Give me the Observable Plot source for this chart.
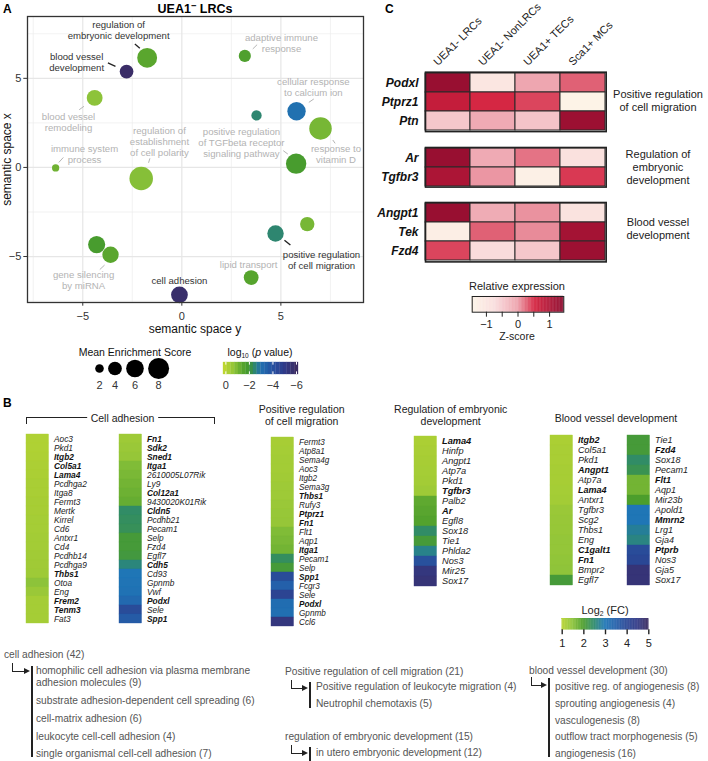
<!DOCTYPE html>
<html>
<head>
<meta charset="utf-8">
<script src="https://cdn.jsdelivr.net/npm/d3@7"></script>
<script src="https://cdn.jsdelivr.net/npm/@observablehq/plot@0.6"></script>
<style>
html,body{margin:0;padding:0;background:#fff;}
#fig{position:relative;width:708px;height:761px;overflow:hidden;background:#fff;font-family:"Liberation Sans",Arial,Helvetica,sans-serif;color:#222;}
.t{position:absolute;white-space:nowrap;}
sub{font-size:0.62em;vertical-align:-0.3em;line-height:0;}
sup{font-size:0.75em;vertical-align:0.4em;line-height:0;}
</style>
</head>
<body>
<div id="fig"></div>
<script>
// ---------------- Panel A data (REVIGO semantic space) ----------------
const termLabels = ["regulation of\nembryonic development","blood vessel\ndevelopment","blood vessel\nremodeling","immune system\nprocess","regulation of\nestablishment\nof cell polarity","","gene silencing\nby miRNA","cell adhesion","adaptive immune\nresponse","","cellular response\nto calcium ion","response to\nvitamin D","positive regulation\nof TGFbeta receptor\nsignaling pathway","","positive regulation\nof cell migration","lipid transport"];
const semX = [-1.75,-2.79,-4.40,-6.37,-2.05,-4.30,-3.60,-0.12,3.18,3.77,5.79,7.00,5.77,6.33,4.73,3.50];
const semY = [6.15,5.38,3.90,-0.03,-0.62,-4.33,-4.90,-7.15,6.26,2.92,3.15,2.19,0.21,-3.18,-3.71,-6.18];
const enrichScore = [7.3,4.0,5.0,1.6,9.7,5.7,5.3,5.5,3.3,2.6,6.4,9.0,7.6,4.3,5.3,4.5];
const log10P = [-1.45,-5.9,-0.75,-1.15,-0.85,-1.8,-1.45,-5.8,-1.65,-2.5,-3.0,-1.05,-1.8,-1.05,-2.5,-1.5];
const highlighted = [true,true,false,false,false,false,false,true,false,false,false,false,false,false,true,false];
// label anchors (repelled positions, semantic-space units)
const labelX = [-3.19,-5.31,-5.72,-4.91,-1.13,null,-4.96,-0.12,5.03,null,6.64,7.78,3.01,null,7.05,3.37];
const labelY = [7.71,5.91,2.54,0.77,1.46,null,-6.31,-6.37,6.98,null,4.51,0.77,1.42,null,-5.19,-5.47];
const leaderX1 = [-2.37,-3.73,-5.18,-6.21,-1.61,null,-4.14,null,3.58,null,6.41,7.62,5.12,null,5.18,null];
const leaderY1 = [6.93,5.87,3.24,0.28,0.51,null,-5.73,null,6.65,null,3.65,1.54,0.94,null,-4.08,null];
const leaderX2 = [-2.12,-3.35,-4.94,-5.98,-1.68,null,-3.90,null,3.80,null,6.66,7.74,5.35,null,5.48,null];
const leaderY2 = [6.69,5.67,3.43,0.56,0.26,null,-5.48,null,6.89,null,3.84,1.35,0.75,null,-4.36,null];
const gridMajor = [-5,0,5];
const gridMinor = [-7.5,-2.5,2.5,7.5];
const sizeBreaks = [2,4,6,8];
const pBreaks = [0,-2,-4,-6];

// ---------------- Panel B data (log2 FC) ----------------
const caGenes1 = ["Aoc3","Pkd1","Itgb2","Col5a1","Lama4","Pcdhga2","Itga8","Fermt3","Mertk","Kirrel","Cd6","Antxr1","Cd4","Pcdhb14","Pcdhga9","Thbs1","Otoa","Eng","Frem2","Tenm3","Fat3"];
const caFC1 = [1.1,1.1,1.12,1.14,1.15,1.17,1.18,1.2,1.2,1.22,1.22,1.24,1.25,1.27,1.28,1.3,1.5,1.35,1.22,1.22,1.22];
const caBold1 = ["Itgb2","Col5a1","Lama4","Thbs1","Frem2","Tenm3"];
const caGenes2 = ["Fn1","Sdk2","Sned1","Itga1","2610005L07Rik","Ly9","Col12a1","9430020K01Rik","Cldn5","Pcdhb21","Pecam1","Selp","Fzd4","Egfl7","Cdh5","Cd93","Gpnmb","Vwf","Podxl","Sele","Spp1"];
const caFC2 = [1.3,1.35,1.4,1.6,1.65,1.7,1.75,1.8,2.45,2.4,2.35,2.1,2.1,2.15,2.6,3.0,3.05,3.1,3.3,3.9,3.6];
const caBold2 = ["Fn1","Sdk2","Sned1","Itga1","Col12a1","Cldn5","Cdh5","Podxl","Spp1"];
const prGenes = ["Fermt3","Atp8a1","Sema4g","Aoc3","Itgb2","Sema3g","Thbs1","Rufy3","Ptprz1","Fn1","Flt1","Aqp1","Itga1","Pecam1","Selp","Spp1","Fcgr3","Sele","Podxl","Gpnmb","Ccl6"];
const prFC = [1.2,1.22,1.25,1.25,1.27,1.3,1.3,1.35,1.38,1.4,1.6,1.65,1.7,2.4,2.1,3.9,3.5,4.1,3.2,3.15,4.6];
const prBold = ["Thbs1","Ptprz1","Fn1","Itga1","Spp1","Podxl"];
const edGenes = ["Lama4","Hinfp","Angpt1","Atp7a","Pkd1","Tgfbr3","Palb2","Ar","Egfl8","Sox18","Tie1","Phlda2","Nos3","Mir25","Sox17"];
const edFC = [1.15,1.18,1.2,1.22,1.25,1.3,1.85,1.9,1.95,2.45,2.1,2.7,3.8,4.6,4.7];
const edBold = ["Lama4","Tgfbr3","Ar"];
const bvGenes1 = ["Itgb2","Col5a1","Pkd1","Angpt1","Atp7a","Lama4","Antxr1","Tgfbr3","Scg2","Thbs1","Eng","C1galt1","Fn1","Bmpr2","Egfl7"];
const bvFC1 = [1.15,1.17,1.18,1.2,1.2,1.22,1.24,1.35,1.37,1.38,1.42,1.42,1.45,1.48,2.1];
const bvBold1 = ["Itgb2","Angpt1","Lama4","C1galt1","Fn1"];
const bvGenes2 = ["Tie1","Fzd4","Sox18","Pecam1","Flt1","Aqp1","Mir23b","Apold1","Mmrn2","Lrg1","Gja4","Ptprb","Nos3","Gja5","Sox17"];
const bvFC2 = [2.1,2.1,2.45,2.3,1.7,1.7,2.0,3.0,3.0,2.8,2.65,3.9,4.0,4.7,4.7];
const bvBold2 = ["Fzd4","Flt1","Mmrn2","Ptprb"];
const fcBreaks = [1,2,3,4,5];

// ---------------- Panel C data (z-scores) ----------------
const samples = ["UEA1- LRCs","UEA1- NonLRCs","UEA1+ TECs","Sca1+ MCs"];
const migGenes = ["Podxl","Ptprz1","Ptn"];
const migZ = [[1.3,-1.0,-0.05,0.28],[0.75,0.53,0.4,-1.4],[-0.45,-0.1,-0.4,1.25]];
const embGenes = ["Ar","Tgfbr3"];
const embZ = [[1.3,-0.1,0.2,-0.85],[1.05,0.05,-1.3,0.45]];
const vesGenes = ["Angpt1","Tek","Fzd4"];
const vesZ = [[1.3,-0.12,0.07,-0.9],[-1.25,0.28,0.1,1.15],[0.4,-0.7,-0.45,1.25]];
const zBreaks = [-1,-0.5,0,0.5,1];

// ---------------- bottom GO lists ----------------
const caList = ["homophilic cell adhesion via plasma membrane<br>adhesion molecules (9)","substrate adhesion-dependent cell spreading (6)","cell-matrix adhesion (6)","leukocyte cell-cell adhesion (4)","single organismal cell-cell adhesion (7)"];
const prList = ["Positive regulation of leukocyte migration (4)","Neutrophil chemotaxis (5)"];
const reList = ["in utero embryonic development (12)"];
const bvList = ["positive reg. of angiogenesis (8)","sprouting angiogenesis (4)","vasculogenesis (8)","outflow tract morphogenesis (5)","angiogenesis (16)"];

// ---------------- helpers ----------------
const FONT = '"Liberation Sans", Arial, Helvetica, sans-serif';
const fig = document.getElementById("fig");
const minus = d => (d < 0 ? "\u2212" + Math.abs(d) : String(d));
const baseStyle = {fontFamily: FONT, background: "none", overflow: "visible", color: "#222"};
function place(el, left, top) {
  Object.assign(el.style, {position: "absolute", left: left + "px", top: top + "px", maxWidth: "none", background: "none", overflow: "visible"});
  fig.appendChild(el); return el;
}
function txt(html, x, y, o = {}) {
  const d = document.createElement("div");
  d.className = "t"; d.innerHTML = html;
  const size = o.size || 10, lh = o.lh || Math.round(size * 1.15);
  Object.assign(d.style, {left: x + "px", top: (y - lh / 2) + "px", fontSize: size + "px", lineHeight: lh + "px",
    color: o.color || "#222", fontWeight: o.weight || "normal", fontStyle: o.style || "normal", textAlign: o.align || "left"});
  let tr = "";
  if (o.anchor === "middle") tr = "translateX(-50%)";
  if (o.anchor === "end") tr = "translateX(-100%)";
  if (o.bg) { d.style.background = o.bg; d.style.padding = "0 4px"; }
  d.style.transform = tr;
  fig.appendChild(d); return d;
}
function box(x, y, w, h, css) {
  const d = document.createElement("div");
  Object.assign(d.style, {position: "absolute", left: x + "px", top: y + "px", width: w + "px", height: h + "px", boxSizing: "border-box"}, css || {});
  fig.appendChild(d); return d;
}
function elbow(x, y1, y2, tip) {
  box(x - 0.8, y1, tip - x - 4, y2 - y1 + 0.8, {borderLeft: "1.6px solid #222", borderBottom: "1.6px solid #222"});
  box(tip - 6, y2 - 3.4, 0, 0, {borderLeft: "6px solid #222", borderTop: "3.6px solid transparent", borderBottom: "3.6px solid transparent"});
}
function vbar(x, y1, y2) { box(x - 1, y1, 2, y2 - y1, {background: "#222"}); }

// ---------------- colour scales ----------------
const pStops = [[0,"#bcd631"],[-0.75,"#8dc33a"],[-1.5,"#56a42d"],[-2,"#3f962f"],[-2.5,"#2e8670"],[-3,"#2171b0"],[-4,"#2550a0"],[-5,"#2f3b8a"],[-6,"#3b2c63"]];
const pColor = {type: "linear", domain: pStops.map(d => d[0]), range: pStops.map(d => d[1]), clamp: true};
const fcStops = [[1,"#b8d432"],[1.5,"#8dc33a"],[2,"#4c9e2c"],[2.5,"#2e8a6c"],[3,"#1f76b6"],[3.5,"#2460aa"],[4,"#2a4795"],[4.5,"#323a86"],[5,"#3b2c60"]];
const fcColor = {type: "linear", domain: fcStops.map(d => d[0]), range: fcStops.map(d => d[1]), clamp: true};
const zStops = [[-1.45,"#fdf5e8"],[-0.7,"#f9dcdc"],[0,"#eda2ad"],[0.55,"#d4223f"],[1.45,"#8c0b2e"]];
const zColor = {type: "linear", domain: zStops.map(d => d[0]), range: zStops.map(d => d[1]), clamp: true};
const rOpts = {type: "sqrt", domain: [2, 8], range: [4.3, 10.5]};

// ================= PANEL A =================
txt("A", 3, 9, {size: 12, weight: "bold", color: "#000"});
txt("UEA1<sup>\u2212</sup> LRCs", 195, 9, {size: 12.5, weight: "bold", anchor: "middle", color: "#000"});

const bubbles = semX.map((x, i) => ({x, y: semY[i], score: enrichScore[i], p: log10P[i]}));
const labs = termLabels.map((t, i) => ({t, x: labelX[i], y: labelY[i], dark: highlighted[i]})).filter(d => d.t);
const leads = leaderX1.map((x1, i) => ({x1, y1: leaderY1[i], x2: leaderX2[i], y2: leaderY2[i], dark: highlighted[i]})).filter(d => d.x1 != null);

place(Plot.plot({
  width: 365, height: 340, marginLeft: 27, marginRight: 2, marginTop: 16, marginBottom: 38,
  x: {domain: [-7.79, 9.17]}, y: {domain: [-7.58, 8.47]},
  r: rOpts, color: pColor,
  style: {...baseStyle, color: "#333"},
  marks: [
    Plot.ruleX(gridMinor, {stroke: "#ececec", strokeWidth: 0.7}),
    Plot.ruleY(gridMinor, {stroke: "#ececec", strokeWidth: 0.7}),
    Plot.ruleX(gridMajor, {stroke: "#e6e6e6", strokeWidth: 1.2}),
    Plot.ruleY(gridMajor, {stroke: "#e6e6e6", strokeWidth: 1.2}),
    Plot.link(leads.filter(d => !d.dark), {x1: "x1", y1: "y1", x2: "x2", y2: "y2", stroke: "#b5b5b5", strokeWidth: 1}),
    Plot.link(leads.filter(d => d.dark), {x1: "x1", y1: "y1", x2: "x2", y2: "y2", stroke: "#222", strokeWidth: 1.3}),
    Plot.dot(bubbles, {x: "x", y: "y", r: "score", fill: "p"}),
    Plot.text(labs.filter(d => !d.dark), {x: "x", y: "y", text: "t", fill: "#b3b3b3", fontSize: 9.6, lineHeight: 1.15, clip: true}),
    Plot.text(labs.filter(d => d.dark), {x: "x", y: "y", text: "t", fill: "#333", fontSize: 9.6, lineHeight: 1.15, clip: true}),
    Plot.frame({stroke: "#333", strokeWidth: 1.3}),
    Plot.axisX({ticks: gridMajor, tickFormat: minus, tickSize: 3.7, tickPadding: 6, fontSize: 11, label: null}),
    Plot.axisY({ticks: gridMajor, tickFormat: minus, tickSize: 3.7, tickPadding: 2.5, fontSize: 11, label: null})
  ]
}), 0, 0);
txt("semantic space y", 195, 329, {size: 12, lh: 13, anchor: "middle", color: "#111"});
const yl = txt("semantic space x", 7, 159, {size: 12, lh: 13, color: "#111"});
yl.style.transform = "translate(-50%,0) rotate(-90deg)";

// size legend
txt("Mean Enrichment Score", 135, 352, {size: 10.5, anchor: "middle", color: "#111"});
const rScale = Plot.scale({r: rOpts});
const sizeKeys = [];
let cpos = 99;
sizeBreaks.forEach((s, i) => {
  if (i > 0) cpos += rScale.apply(sizeBreaks[i - 1]) + 4.3 + rScale.apply(s);
  sizeKeys.push({s, cx: cpos});
});
place(Plot.plot({
  width: 200, height: 60, margin: 0,
  x: {type: "identity", axis: null}, y: {type: "identity", axis: null}, r: rOpts,
  style: baseStyle,
  marks: [
    Plot.dot(sizeKeys, {x: "cx", y: 28, r: "s", fill: "#000", sort: null}),
    Plot.text(sizeKeys, {x: "cx", y: 45, text: d => String(d.s), fontSize: 11, fill: "#333"})
  ]
}), 0, 340);

// p-value colour bar
txt("log<sub>10</sub> (<i>p</i> value)", 260, 352, {size: 10.5, anchor: "middle", color: "#111"});
const pBins = d3.range(20).map(i => ({a: 0.2 - i * 6.37 / 20, b: 0.2 - (i + 1) * 6.37 / 20}));
place(Plot.plot({
  width: 100, height: 40, marginLeft: 13, marginRight: 12, marginTop: 7, marginBottom: 21,
  x: {domain: [0.2, -6.17]}, y: {domain: [0, 1], axis: null}, color: pColor,
  style: {...baseStyle, color: "#333"},
  marks: [
    Plot.rect(pBins, {x1: "a", x2: "b", y1: 0, y2: 1, fill: d => (d.a + d.b) / 2, stroke: d => (d.a + d.b) / 2, strokeWidth: 0.3}),
    Plot.ruleX(pBreaks, {y1: 0, y2: 0.22, stroke: "white", strokeWidth: 1}),
    Plot.ruleX(pBreaks, {y1: 0.78, y2: 1, stroke: "white", strokeWidth: 1}),
    Plot.axisX({ticks: pBreaks, tickFormat: minus, tickSize: 0, tickPadding: 7, fontSize: 11, label: null})
  ]
}), 210, 355);

// ================= PANEL C =================
txt("C", 385, 9, {size: 12, weight: "bold", color: "#000"});
function heatBlock(genes, z, top, mt, header) {
  const cells = genes.flatMap((g, i) => samples.map((s, j) => ({g, s, z: z[i][j]})));
  const h = mt + genes.length * 19.8 + 2;
  return place(Plot.plot({
    width: 260, height: h, marginLeft: 75, marginRight: 260 - 75 - 180.7, marginTop: mt, marginBottom: 2,
    x: {domain: samples, padding: 0, axis: null}, y: {domain: genes, padding: 0},
    color: zColor,
    style: {...baseStyle, color: "#111"},
    marks: [
      Plot.cell(cells, {x: "s", y: "g", fill: "z", stroke: "#2b2b2b", strokeWidth: 1, inset: 0}),
      Plot.frame({stroke: "#222", strokeWidth: 1.6}),
      Plot.axisY({tickSize: 0, tickPadding: 7, fontSize: 12, fontWeight: "bold", fontStyle: "italic", label: null}),
      header ? Plot.text(samples, {x: d => d, frameAnchor: "top", rotate: -45, textAnchor: "start", lineAnchor: "bottom", dx: -10, dy: -6, fontSize: 11, fill: "#222"}) : null
    ]
  }), 350, top);
}
heatBlock(migGenes, migZ, 0, 71.7, true);
heatBlock(embGenes, embZ, 144.7, 2, false);
heatBlock(vesGenes, vesZ, 200.3, 2, false);
txt("Positive regulation<br>of cell migration", 658, 94, {size: 11, lh: 13, anchor: "middle", align: "center", color: "#222"});
txt("Regulation of<br>embryonic<br>development", 658, 154, {size: 11, lh: 13, anchor: "middle", align: "center", color: "#222"});
txt("Blood vessel<br>development", 658, 222, {size: 11, lh: 13, anchor: "middle", align: "center", color: "#222"});

// z-score legend
txt("Relative expression", 517, 286, {size: 11, anchor: "middle", color: "#222"});
const zBins = d3.range(120).map(i => ({a: -1.45 + i * 2.9 / 120, b: -1.45 + (i + 1) * 2.9 / 120}));
place(Plot.plot({
  width: 120, height: 50, marginLeft: 11.7, marginRight: 16.7, marginTop: 6, marginBottom: 28.3,
  x: {domain: [-1.45, 1.45]}, y: {domain: [0, 1], axis: null}, color: zColor,
  style: {...baseStyle, color: "#222"},
  marks: [
    Plot.rect(zBins, {x1: "a", x2: "b", y1: 0, y2: 1, fill: d => (d.a + d.b) / 2, stroke: d => (d.a + d.b) / 2, strokeWidth: 0.3}),
    Plot.frame({stroke: "#222", strokeWidth: 1}),
    Plot.axisX({ticks: zBreaks, tickFormat: d => (Number.isInteger(d) ? minus(d) : ""), tickSize: 5, tickPadding: 2.5, fontSize: 11, label: null})
  ]
}), 460, 290);
txt("Z-score", 517, 336, {size: 10.5, anchor: "middle", color: "#222"});

// ================= PANEL B =================
txt("B", 3, 403, {size: 12, weight: "bold", color: "#000"});
function fcColumn(genes, fcs, bolds, left, top, pitch) {
  const rows = genes.map((g, i) => ({gene: g, fc: fcs[i], bold: bolds.includes(g)}));
  const fs = Math.min(10, +(pitch / 1.15).toFixed(2));
  return place(Plot.plot({
    width: 112, height: genes.length * pitch, marginLeft: 0, marginRight: 112 - 22.5, marginTop: 0, marginBottom: 0,
    x: {domain: [0, 1], axis: null}, y: {domain: genes, padding: 0, axis: null}, color: fcColor,
    style: {...baseStyle, color: "#222"},
    marks: [
      Plot.barX(rows, {x1: 0, x2: 1, y: "gene", fill: "fc", stroke: "fc", strokeWidth: 0.4}),
      Plot.text(rows.filter(d => !d.bold), {x: 1, y: "gene", text: "gene", textAnchor: "start", dx: 5, fontSize: fs, fontStyle: "italic", fill: "#222"}),
      Plot.text(rows.filter(d => d.bold), {x: 1, y: "gene", text: "gene", textAnchor: "start", dx: 5, fontSize: fs, fontStyle: "italic", fontWeight: "bold", fill: "#111"})
    ]
  }), left, top);
}
fcColumn(caGenes1, caFC1, caBold1, 26, 428, 9.6);
fcColumn(caGenes2, caFC2, caBold2, 119, 428, 9.6);
fcColumn(prGenes, prFC, prBold, 271, 433, 9.4);
fcColumn(edGenes, edFC, edBold, 414, 431, 10.6);
fcColumn(bvGenes1, bvFC1, bvBold1, 550, 432, 10.35);
fcColumn(bvGenes2, bvFC2, bvBold2, 627, 432, 10.35);

// headers
box(26, 417.3, 189, 6.5, {borderTop: "1.4px solid #222", borderLeft: "1.4px solid #222", borderRight: "1.4px solid #222"});
txt("Cell adhesion", 122.5, 418, {size: 10.5, anchor: "middle", bg: "#fff", color: "#222"});
txt("Positive regulation<br>of cell migration", 301.7, 409, {size: 10.5, lh: 12, anchor: "middle", align: "center", color: "#222"});
txt("Regulation of embryonic<br>development", 450.7, 409, {size: 10.5, lh: 12, anchor: "middle", align: "center", color: "#222"});
txt("Blood vessel development", 616, 418, {size: 10.5, anchor: "middle", color: "#222"});

// log2 FC legend
txt("Log<sub>2</sub> (FC)", 605, 610, {size: 11, anchor: "middle", color: "#222"});
const fcBins = d3.range(120).map(i => ({a: 1 + i * 4 / 120, b: 1 + (i + 1) * 4 / 120}));
place(Plot.plot({
  width: 110, height: 50, marginLeft: 11.7, marginRight: 11.7, marginTop: 18.3, marginBottom: 20.7,
  x: {domain: [1, 5]}, y: {domain: [0, 1], axis: null}, color: fcColor,
  style: {...baseStyle, color: "#222"},
  marks: [
    Plot.rect(fcBins, {x1: "a", x2: "b", y1: 0, y2: 1, fill: d => (d.a + d.b) / 2, stroke: d => (d.a + d.b) / 2, strokeWidth: 0.3}),
    Plot.axisX({ticks: fcBreaks, tickFormat: d => String(d), tickSize: 5, tickPadding: 4, fontSize: 11, label: null, strokeWidth: 1.4})
  ]
}), 550, 600);

// ================= bottom GO term lists =================
const G = "#555", S = 10.2;
txt("cell adhesion (42)", 4, 655, {size: S, color: G});
elbow(12.3, 663, 671, 30);
vbar(31.7, 666, 757);
txt(caList[0], 36, 671, {size: S, lh: 11.5, color: G});
[701, 719, 737, 754].forEach((y, i) => txt(caList[i + 1], 36, y, {size: S, color: G}));

txt("Positive regulation of cell migration (21)", 285, 671.7, {size: S, color: G});
elbow(292, 680, 688, 308);
vbar(310.3, 682, 708);
[687.3, 704].forEach((y, i) => txt(prList[i], 316, y, {size: S, color: G}));

txt("regulation of embryonic development (15)", 285, 736.7, {size: S, color: G});
elbow(292, 745, 753, 308);
vbar(310.3, 747, 761);
txt(reList[0], 316, 753.3, {size: S, color: G});

txt("blood vessel development (30)", 529, 670.7, {size: S, color: G});
elbow(531.7, 677, 685, 547);
vbar(549.3, 678, 757);
[687.3, 704, 720.5, 737, 753.5].forEach((y, i) => txt(bvList[i], 555, y, {size: S, color: G}));
</script>
</body>
</html>
